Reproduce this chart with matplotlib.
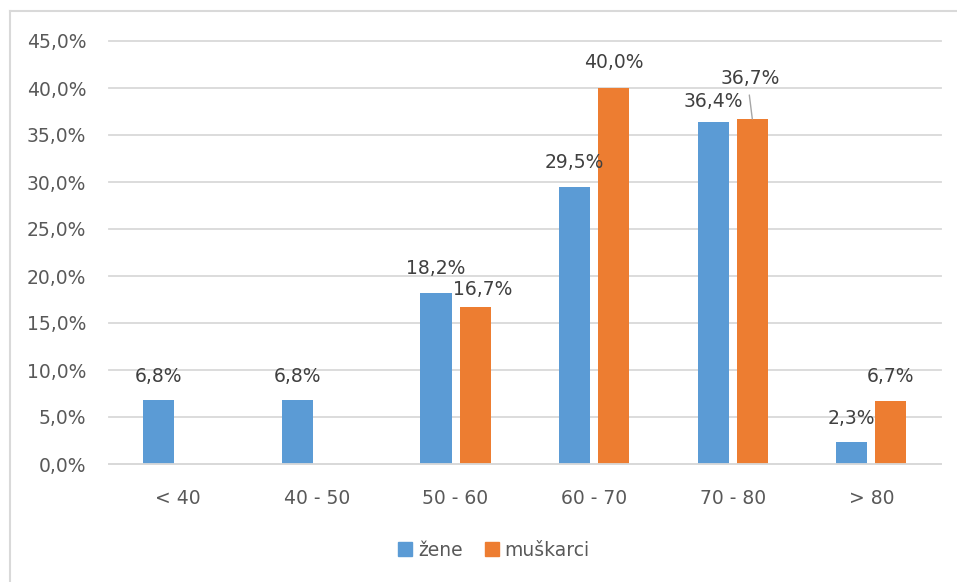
import numpy as np
import matplotlib
matplotlib.use("Agg")
import matplotlib.pyplot as plt
from matplotlib.lines import Line2D
from matplotlib.patches import Patch

categories = ["< 40", "40 - 50", "50 - 60", "60 - 70", "70 - 80", "> 80"]
zene = [6.8, 6.8, 18.2, 29.5, 36.4, 2.3]
muskarci = [0.0, 0.0, 16.7, 40.0, 36.7, 6.7]
series_names = ["žene", "muškarci"]
yticks = [0, 5, 10, 15, 20, 25, 30, 35, 40, 45]

BLUE = "#5B9BD5"
ORANGE = "#ED7D31"
GRID = "#D9D9D9"
TICK_COL = "#595959"
LABEL_COL = "#404040"
FS = 13.5

plt.rcParams["font.family"] = ["DejaVu Sans"]

fig = plt.figure(figsize=(9.57, 5.82), dpi=100)
W, H = 957, 582
ax = fig.add_axes([109 / W, 1 - 464 / H, (940.7 - 109) / W, (464 - 41) / H])

x = np.arange(len(categories))
bw = 0.224
off = 0.141
b1 = ax.bar(x - off, zene, bw, color=BLUE, zorder=3)
b2 = ax.bar(x + off, muskarci, bw, color=ORANGE, zorder=3)

ax.set_xlim(-0.5, len(categories) - 0.5)
ax.set_ylim(0, 45)
ax.set_yticks(yticks)
ax.set_yticklabels([f"{v:.1f}%".replace(".", ",") for v in yticks])
ax.set_xticks(x)
ax.set_xticklabels(categories)
ax.tick_params(axis="both", length=0, labelsize=FS, colors=TICK_COL)
ax.tick_params(axis="y", pad=16.5)
ax.tick_params(axis="x", pad=18)
ax.grid(axis="y", color=GRID, linewidth=1.3, zorder=0)
for gl in ax.get_ygridlines():
    gl.set_clip_on(False)
for s in ["top", "right", "left"]:
    ax.spines[s].set_visible(False)
ax.spines["bottom"].set_color(GRID)
ax.spines["bottom"].set_linewidth(1.3)
ax.spines["bottom"].set_zorder(4)

# data labels: offsets given in pixels (dpi 100 -> 0.72 pt per px)
def put_label(xc, val, dx_px=0, dy_px=24):
    txt = f"{val:.1f}%".replace(".", ",")
    ax.annotate(txt, (xc, val), xytext=(dx_px * 0.72, dy_px * 0.72),
                textcoords="offset points", ha="center", va="center",
                fontsize=FS, color=LABEL_COL, zorder=5)

for i, v in enumerate(zene):
    if v > 0:
        dy = 20 if i == 4 else 24
        put_label(x[i] - off, v, dy_px=dy)
for i, v in enumerate(muskarci):
    if v <= 0:
        continue
    if i == 2:
        put_label(x[i] + off, v, dx_px=8, dy_px=18)
    elif i == 4:
        put_label(x[i] + off, v, dx_px=-2.5, dy_px=41)
        ax.annotate("", (x[i] + off, v), xytext=(-3 * 0.72, 24 * 0.72),
                    textcoords="offset points",
                    arrowprops=dict(arrowstyle="-", color="#A6A6A6", lw=1,
                                    shrinkA=0, shrinkB=0))
    else:
        put_label(x[i] + off, v, dy_px=25)

handles = [Patch(color=BLUE), Patch(color=ORANGE)]
fig.legend(handles, series_names, loc="center", bbox_to_anchor=(494 / W, 1 - 550 / H),
           ncol=2, frameon=False, fontsize=FS, handlelength=0.75, handleheight=0.75,
           handletextpad=0.3, columnspacing=1.2, labelcolor=TICK_COL)

# outer chart frame (left and top edges visible)
fig.add_artist(Line2D([9.5 / W, 9.5 / W], [0, 1 - 11 / H], transform=fig.transFigure,
                      color=GRID, lw=1.5))
fig.add_artist(Line2D([9.5 / W, 1], [1 - 11 / H, 1 - 11 / H], transform=fig.transFigure,
                      color=GRID, lw=1.5))

fig.savefig("out.png", dpi=100)
